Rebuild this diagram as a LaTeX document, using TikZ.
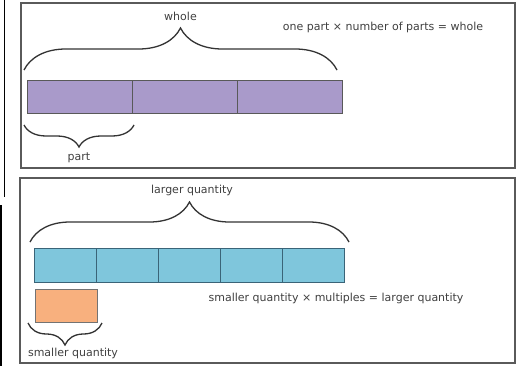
\documentclass[tikz,border=0pt]{standalone}
\usepackage{fontspec}
\setmainfont{DejaVu Sans}
\usetikzlibrary{decorations.pathreplacing}
\definecolor{partpurple}{HTML}{A99ACA}
\definecolor{partblue}{HTML}{7FC6DC}
\definecolor{partorange}{HTML}{F8B07E}
\definecolor{framegray}{HTML}{5A5A5A}
\definecolor{blueedge}{HTML}{3A6478}
\tikzset{
  panel/.style={draw=framegray, line width=1.8pt},
  purplecell/.style={draw=black!65, fill=partpurple, line width=0.8pt, inner sep=0pt},
  bluecell/.style={draw=blueedge, fill=partblue, line width=0.8pt, inner sep=0pt},
  orangecell/.style={draw=black!55, fill=partorange, line width=0.8pt, inner sep=0pt},
  bigbrace/.style={draw=black!80, line width=1.3pt, decorate, decoration={brace, amplitude=#1}},
  lbl/.style={font=\fontsize{11}{12}\selectfont, text=black!75, inner sep=0pt},
}
\begin{document}
\begin{tikzpicture}[x=1pt, y=-1pt]
\useasboundingbox (0,0) rectangle (518,366);
\fill[white] (0,0) rectangle (518,366);
% stray left edges
\draw[black, line width=1.8pt] (4.5,0) -- (4.5,197);
\draw[black, line width=1.8pt] (1,205) -- (1,366);
% panels
\draw[panel] (21,3) rectangle (515,168);
\draw[panel] (20,178) rectangle (515,363);
% top bar
\node[purplecell, minimum width=105pt, minimum height=33pt] (p1) at (79.5,96.5) {};
\node[purplecell, minimum width=105pt, minimum height=33pt] (p2) at (184.5,96.5) {};
\node[purplecell, minimum width=105pt, minimum height=33pt] (p3) at (289.5,96.5) {};
\coordinate (wl) at (24,70);
\coordinate (wr) at (337,70);
\draw[bigbrace=42pt] (wl) -- (wr);
\node[lbl] (whole) at (180.5,16) {whole};
\coordinate (pl) at (24,125);
\coordinate (pr) at (134,125);
\draw[bigbrace=22pt] (pr) -- (pl);
\node[lbl] (part) at (79,158) {part};
\node[lbl] (eq1) at (383,27) {one part × number of parts = whole};
% bottom bar
\node[bluecell, minimum width=62pt, minimum height=34pt] (b1) at (65,265) {};
\node[bluecell, minimum width=62pt, minimum height=34pt] (b2) at (127,265) {};
\node[bluecell, minimum width=62pt, minimum height=34pt] (b3) at (189,265) {};
\node[bluecell, minimum width=62pt, minimum height=34pt] (b4) at (251,265) {};
\node[bluecell, minimum width=62pt, minimum height=34pt] (b5) at (313,265) {};
\coordinate (ll) at (30,242);
\coordinate (lr) at (349,242);
\draw[bigbrace=40pt] (ll) -- (lr);
\node[lbl] (larger) at (192,190) {larger quantity};
\node[orangecell, minimum width=62pt, minimum height=33pt] (s1) at (66,305.5) {};
\coordinate (sl) at (28,323);
\coordinate (sr) at (102,323);
\draw[bigbrace=22pt] (sr) -- (sl);
\node[lbl] (smaller) at (73,353) {smaller quantity};
\node[lbl] (eq2) at (336,298) {smaller quantity × multiples = larger quantity};
\end{tikzpicture}
\end{document}
